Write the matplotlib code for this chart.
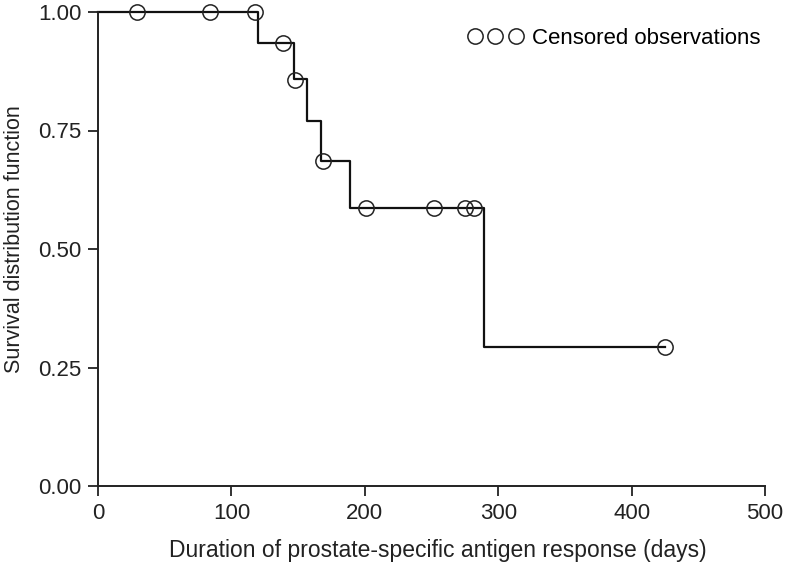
import matplotlib
matplotlib.use("Agg")
import matplotlib.pyplot as plt
from matplotlib.lines import Line2D

# Kaplan-Meier step curve
step_times = [0, 120, 147, 157, 167, 189, 289, 425]
step_surv = [1.0, 0.934, 0.859, 0.771, 0.686, 0.587, 0.293, 0.293]

# Censored observations
cens_times = [29, 84, 118, 139, 148, 169, 201, 252, 275, 282, 425]
cens_surv = [1.0, 1.0, 1.0, 0.934, 0.857, 0.686, 0.587, 0.587, 0.587, 0.587, 0.293]

xticks = [0, 100, 200, 300, 400, 500]
yticks = [0.0, 0.25, 0.5, 0.75, 1.0]
ytick_labels = ["0.00", "0.25", "0.50", "0.75", "1.00"]

plt.rcParams['font.family'] = ['Liberation Sans', 'DejaVu Sans']

W, H = 785, 565
fig = plt.figure(figsize=(W / 100, H / 100), dpi=100)
ax = fig.add_axes([98 / W, 1 - 486 / H, (765 - 98) / W, (486 - 12) / H])

ax.step(step_times, step_surv, where='post', color='#111111', lw=1.6, zorder=2,
        clip_on=False)
ax.plot(cens_times, cens_surv, ls='none', marker='o', ms=11, mfc='none',
        mec='#222222', mew=1.1, zorder=3, clip_on=False)

ax.set_xlim(0, 500)
ax.set_ylim(0, 1.0)
ax.set_xticks(xticks)
ax.set_yticks(yticks)
ax.set_yticklabels(ytick_labels)
ax.tick_params(direction='out', length=7, width=1.3, labelsize=16, colors='#222222', pad=5)
ax.spines['top'].set_visible(False)
ax.spines['right'].set_visible(False)
for s in ('left', 'bottom'):
    ax.spines[s].set_linewidth(1.4)
    ax.spines[s].set_color('#222222')
for lbl in ax.get_xticklabels() + ax.get_yticklabels():
    lbl.set_color('#222222')

ax.set_xlabel('Duration of prostate-specific antigen response (days)', fontsize=16.5,
              color='#222222', labelpad=12)
ax.xaxis.set_label_coords((438 - 98) / 667, -(550 - 486) / 474 - 0.0)
ax.xaxis.label.set_va('center')
ax.set_ylabel('Survival distribution function', fontsize=15.5, color='#222222')
ax.yaxis.set_label_coords(-(98 - 15) / 667, (486 - 239) / 474)
ax.yaxis.label.set_va('center')

handle = Line2D([], [], ls='none', marker='o', ms=11, mfc='none', mec='#222222', mew=1.1)
ax.legend(handles=[handle], labels=['Censored observations'], numpoints=3,
          handlelength=2.45, handletextpad=0.4, frameon=False, fontsize=16,
          loc='center right', bbox_to_anchor=((760 - 98) / 667, (486 - 38) / 474),
          borderaxespad=0, borderpad=0)

fig.savefig('out.png', dpi=100)
